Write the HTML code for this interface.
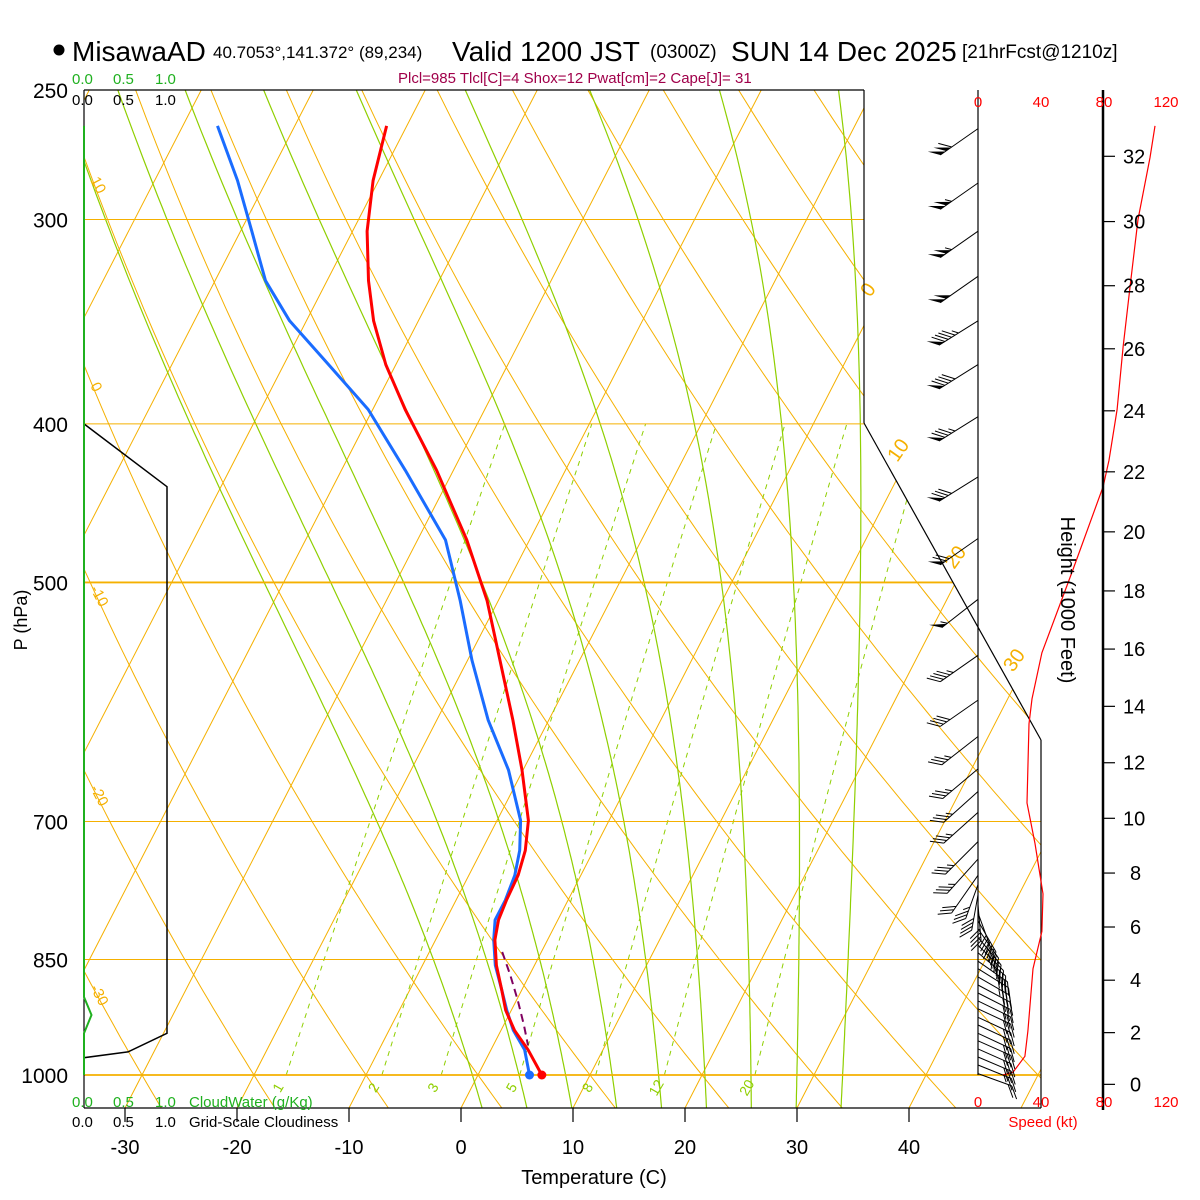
<!DOCTYPE html>
<html><head><meta charset="utf-8">
<style>
html,body{margin:0;padding:0;background:#fff;}
svg{display:block;font-family:"Liberation Sans",sans-serif;}
</style></head>
<body>
<svg id="chart" width="1200" height="1200" viewBox="0 0 1200 1200" xmlns="http://www.w3.org/2000/svg">
<defs>
<clipPath id="plotclip"><polygon points="84,90 864,90 864,423 1041,740 1041,1108 84,1108"/></clipPath>
<clipPath id="mrclip"><polygon points="84,423 864,423 1041,740 1041,1075 84,1075"/></clipPath>
</defs>
<g id="bg" clip-path="url(#plotclip)"></g>
<g id="fg"></g>
<!-- titles -->
<circle cx="59" cy="50" r="5.5" fill="#000"/>
<text x="72" y="61" font-size="28">MisawaAD</text>
<text x="213" y="58" font-size="17">40.7053°,141.372° (89,234)</text>
<text x="452" y="61" font-size="28">Valid 1200 JST</text>
<text x="650" y="58" font-size="19">(0300Z)</text>
<text x="731" y="61" font-size="28">SUN 14 Dec 2025</text>
<text x="962" y="58" font-size="19">[21hrFcst@1210z]</text>
<text x="398" y="83" font-size="15" fill="#a0004a">Plcl=985 Tlcl[C]=4 Shox=12 Pwat[cm]=2 Cape[J]= 31</text>
<!-- cloud scales -->
<g font-size="15">
<text x="72" y="84" fill="#1fb01f">0.0</text><text x="113" y="84" fill="#1fb01f">0.5</text><text x="155" y="84" fill="#1fb01f">1.0</text>
<text x="72" y="105">0.0</text><text x="113" y="105">0.5</text><text x="155" y="105">1.0</text>
</g>
<g font-size="15">
<text x="72" y="1107" fill="#1fb01f">0.0</text><text x="113" y="1107" fill="#1fb01f">0.5</text><text x="155" y="1107" fill="#1fb01f">1.0</text>
<text x="189" y="1107" fill="#1fb01f">CloudWater (g/Kg)</text>
<text x="72" y="1127">0.0</text><text x="113" y="1127">0.5</text><text x="155" y="1127">1.0</text>
<text x="189" y="1127">Grid-Scale Cloudiness</text>
</g>
<text x="594" y="1184" font-size="20" text-anchor="middle">Temperature (C)</text>
<text transform="translate(27,620) rotate(-90)" font-size="18" text-anchor="middle">P (hPa)</text>
<text transform="translate(1061,600) rotate(90)" font-size="20" text-anchor="middle">Height (1000 Feet)</text>
<g font-size="15" fill="#ff0000" text-anchor="middle">
<text x="978" y="107">0</text><text x="1041" y="107">40</text><text x="1104" y="107">80</text><text x="1166" y="107">120</text>
</g>
<g font-size="15" fill="#ff0000" text-anchor="middle">
<text x="978" y="1107">0</text><text x="1041" y="1107">40</text><text x="1104" y="1107">80</text><text x="1166" y="1107">120</text>
<text x="1043" y="1127">Speed (kt)</text>
</g>
</svg>
<script>
// ---- data ----
const P_LEVELS=[250,300,400,500,700,850,1000];
const TEMP_TICKS=[-30,-20,-10,0,10,20,30,40];
const T_P=[263,284,305,327,346,368,392,427,471,513,558,607,651,699,729,755,782,804,827,857,887,913,939,965,1000];
const T_VAL=[-51.8,-50.5,-48.7,-46.3,-44.0,-40.9,-37.1,-31.5,-25.6,-21.0,-17.1,-13.2,-10.1,-7.2,-6.1,-5.6,-5.5,-5.3,-4.7,-3.4,-1.8,-0.5,1.2,3.3,5.7];
const TD_VAL=[-66.9,-62.6,-59.0,-55.5,-51.5,-46.0,-40.4,-34.3,-27.5,-23.4,-19.6,-15.4,-11.3,-7.9,-6.6,-5.9,-5.6,-5.6,-4.8,-3.5,-1.8,-0.4,1.1,3.0,4.6];
const PARCEL_P=[841,869,900,932,959];
const PARCEL_T=[-3.5,-1.7,0.1,1.8,3.1];
const SPD_P=[263,275,300,330,359,392,421,437,491,552,589,610,682,722,775,817,861,940,974,996,1000];
const SPD=[112.4,109.2,101.6,96.5,92.1,88.3,83.2,79.4,60.3,40.6,34.3,32.4,31.1,36.2,41.3,40.6,34.9,31.7,29.8,22.2,15.9];
const BARB_P=[264,285,305,325,346,368,396,431,470,512,554,590,621,650,671,691,720,738,755,765,776,787,796,805,814,824,833,842,852,861,871,881,891,901,911,922,932,943,953,964,975,986,998];
const BARB_DIR=[235,235,235,235,238,238,238,238,235,232,235,235,232,230,228,228,225,222,215,200,190,175,160,150,145,140,135,130,125,122,120,118,117,116,115,115,115,115,114,114,113,112,110];
const BARB_SPD=[110,105,105,100,95,90,85,80,70,55,45,40,35,35,35,35,35,35,30,35,38,40,40,40,40,38,37,35,35,34,33,32,32,32,32,31,31,31,30,30,28,24,18];
const HEIGHT_KFT=[0,2,4,6,8,10,12,14,16,18,20,22,24,26,28,30,32];
const CLD_P=[400,437,943,968,976,1000];
const CLD=[0,1,1,0.53,0,0];
const CW_P=[263,896,919,943,1000];
const CW=[0,0,0.09,0,0];
const ISOTHERMS=[-120,-110,-100,-90,-80,-70,-60,-50,-40,-30,-20,-10,0,10,20,30,40,50];
const THETAS=[-50,-40,-30,-20,-10,0,10,20,30,40,50,60,70,80,90,100,110,120,130,140,150,160,170,180,190,200];
const MOIST_T0=[2,6,10,14,18,22,26,30,34];
const MIXR=[1,2,3,5,8,12,20];
const THETA_LABELS=[-30,-20,-10,0,10];
const ISO_LABELS=[0,10,20,30];

// ---- scales ----
const NS="http://www.w3.org/2000/svg";
const yP=p=>1075-710.6*Math.log(1000/p);
const xT=(T,y)=>461+11.2*T+0.515*(1108-y);
const pFromY=y=>1000*Math.exp(-(1075-y)/710.6);
const xSpd=s=>978+1.575*s;
const xCld=c=>84+83*c;
const ORANGE="#f5b000", GREEN="#8fcf00";
const bg=document.getElementById('bg'), fg=document.getElementById('fg');
function mk(tag,attrs,parent){const e=document.createElementNS(NS,tag);for(const k in attrs)e.setAttribute(k,attrs[k]);(parent||fg).appendChild(e);return e;}
function pathFrom(pts){return pts.map((q,i)=>(i?'L':'M')+q[0].toFixed(1)+','+q[1].toFixed(1)).join('');}
function es(T){return 6.112*Math.exp(17.67*T/(T+243.5));}

// isotherms
ISOTHERMS.forEach(T=>{
  const e=mk('line',{x1:xT(T,1108),y1:1108,x2:xT(T,90),y2:90,stroke:ORANGE,'stroke-width':1},bg);
  
  
});
// dry adiabats
THETAS.forEach(th=>{
  const pts=[];for(let p=1060;p>=240;p-=10){const T=(th+273.15)*Math.pow(p/1000,0.2857)-273.15;const y=yP(p);pts.push([xT(T,y),y]);}
  const e=mk('path',{d:pathFrom(pts),fill:'none',stroke:ORANGE,'stroke-width':1},bg);
  
  
});
// moist adiabats
MOIST_T0.forEach(t0=>{
  let T=t0+273.15,p=1050;const pts=[];
  while(p>=240){const y=yP(p);pts.push([xT(T-273.15,y),y]);const e=es(T-273.15);const rs=0.622*e/(p-e);
    const num=287.04*T+2.501e6*rs;const den=1005.7+(2.501e6*2.501e6*rs*0.622)/(287.04*T*T);T-=num/(p*den)*5;p-=5;}
  const el=mk('path',{d:pathFrom(pts),fill:'none',stroke:GREEN,'stroke-width':1.2},bg);
  
  
});
// mixing ratio
const mrg=mk('g',{'clip-path':'url(#mrclip)'},bg);
MIXR.forEach(w=>{
  const pts=[];for(let p=1000;p>=400;p-=10){const e=w*p/(622+w);const l=Math.log(e/6.112);const Td=243.5*l/(17.67-l);const y=yP(p);pts.push([xT(Td,y),y]);}
  const el=mk('path',{d:pathFrom(pts),fill:'none',stroke:GREEN,'stroke-width':1,'stroke-dasharray':'5,5'},mrg);
  
  
  const lab=mk('text',{transform:`translate(${pts[0][0]-4},1090) rotate(-60)`,'font-size':14,fill:GREEN,'text-anchor':'middle'});
  lab.textContent=w;
  
  
});
// pressure gridlines
P_LEVELS.forEach(p=>{
  const y=yP(p);
  const thick=(p===500||p===1000)?1.8:1;
  const l=mk('line',{x1:84,y1:y,x2:1041,y2:y,stroke:ORANGE,'stroke-width':thick},bg);
  
  
  const t=mk('text',{x:68,y:y+8,'font-size':21,'text-anchor':'end'});
  t.textContent=p;
  
  
});
// theta labels left
THETA_LABELS.forEach(th=>{
  // find p where dry adiabat hits x=90
  let best=250,bd=1e9;for(let p=250;p<=1000;p+=1){const T=(th+273.15)*Math.pow(p/1000,0.2857)-273.15;const d=Math.abs(xT(T,yP(p))-92);if(d<bd){bd=d;best=p;}}
  const t=mk('text',{transform:`translate(90,${yP(best)+2}) rotate(62)`,'font-size':15,fill:ORANGE});
  t.textContent=th;
  
  
});
// isotherm labels right
const isoLabelY=[290,455,562,665];
ISO_LABELS.forEach((T,i)=>{
  const y=isoLabelY[i];
  const t=mk('text',{transform:`translate(${xT(T,y)-12},${y+8}) rotate(-55)`,'font-size':20,fill:ORANGE});
  t.textContent=T;
  
  
});
// borders
[[84,90,864,90],[864,90,864,423],[864,423,1041,740],[1041,740,1041,1108],[84,1108,1041,1108],[84,90,84,1108]].forEach(s=>{
  const l=mk('line',{x1:s[0],y1:s[1],x2:s[2],y2:s[3],stroke:'#000','stroke-width':1.2});
  
  
});
// temp ticks
TEMP_TICKS.forEach(T=>{
  const x=xT(T,1108);
  const l=mk('line',{x1:x,y1:1108,x2:x,y2:1122,stroke:'#000','stroke-width':1.2});
  
  
  const t=mk('text',{x:x,y:1154,'font-size':20,'text-anchor':'middle'});
  t.textContent=T;
  
  
});
// cloudiness
const cl=mk('path',{d:pathFrom(CLD_P.map((p,i)=>[xCld(CLD[i]),yP(p)])),fill:'none',stroke:'#000','stroke-width':1.5});


const cw=mk('path',{d:pathFrom(CW_P.map((p,i)=>[xCld(CW[i]),yP(p)])),fill:'none',stroke:'#1fb01f','stroke-width':2});


// profiles
const tdl=mk('path',{d:pathFrom(T_P.map((p,i)=>[xT(TD_VAL[i],yP(p)),yP(p)])),fill:'none',stroke:'#1a6cff','stroke-width':3,'stroke-linejoin':'round'});


const tl=mk('path',{d:pathFrom(T_P.map((p,i)=>[xT(T_VAL[i],yP(p)),yP(p)])),fill:'none',stroke:'#ff0000','stroke-width':3,'stroke-linejoin':'round'});


const pl=mk('path',{d:pathFrom(PARCEL_P.map((p,i)=>[xT(PARCEL_T[i],yP(p)),yP(p)])),fill:'none',stroke:'#800060','stroke-width':2,'stroke-dasharray':'8,5'});


const sd=mk('circle',{cx:xT(TD_VAL[TD_VAL.length-1],1075),cy:1075,r:4.5,fill:'#1a6cff'});


const st=mk('circle',{cx:xT(T_VAL[T_VAL.length-1],1075),cy:1075,r:4.5,fill:'#ff0000'});


// wind staff & speed
const staff=mk('line',{x1:978,y1:90,x2:978,y2:1075,stroke:'#000','stroke-width':1.2});


const sl=mk('path',{d:pathFrom(SPD_P.map((p,i)=>[xSpd(SPD[i]),yP(p)])),fill:'none',stroke:'#ff0000','stroke-width':1.2});


// barbs
BARB_P.forEach((p,i)=>{
  const y=yP(p),d=BARB_DIR[i]*Math.PI/180;
  const ux=Math.sin(d),uy=-Math.cos(d);
  const L=p<760?46:36;
  const ex=978+L*ux,ey=y+L*uy;
  const a=Math.atan2(uy,ux)+50*Math.PI/180;
  const tx=Math.cos(a),ty=Math.sin(a);
  const g=mk('g',{});
  
  
  let s=''+`M978,${y.toFixed(1)}L${ex.toFixed(1)},${ey.toFixed(1)}`;
  let spd=Math.round(BARB_SPD[i]/5)*5,pos=0,tri='';
  while(spd>=50){const bx=ex-pos*ux,by=ey-pos*uy;tri+=`M${bx},${by}L${bx+13*tx},${by+13*ty}L${bx-6*ux},${by-6*uy}Z`;pos+=7;spd-=50;}
  while(spd>=10){const bx=ex-pos*ux,by=ey-pos*uy;s+=`M${bx.toFixed(1)},${by.toFixed(1)}l${(14*tx).toFixed(1)},${(14*ty).toFixed(1)}`;pos+=4;spd-=10;}
  if(spd>=5){const bx=ex-pos*ux,by=ey-pos*uy;s+=`M${bx.toFixed(1)},${by.toFixed(1)}l${(7*tx).toFixed(1)},${(7*ty).toFixed(1)}`;}
  mk('path',{d:s,stroke:'#000','stroke-width':1,fill:'none'},g);
  if(tri)mk('path',{d:tri,fill:'#000'},g);
});
// height axis
const ha=mk('line',{x1:1103,y1:90,x2:1103,y2:1110,stroke:'#000','stroke-width':2.5});


HEIGHT_KFT.forEach(h=>{
  const p=1013.25*Math.pow(1-6.8756e-6*h*1000,5.2559);
  const y=yP(p);
  const l=mk('line',{x1:1103,y1:y,x2:1115,y2:y,stroke:'#000','stroke-width':1.2});
  
  
  const t=mk('text',{x:1130,y:y+7,'font-size':20,'text-anchor':h<10?'start':'start'});
  t.setAttribute('x',h<10?1130:1123);
  t.textContent=h;
  
  
});
</script>
</body></html>
